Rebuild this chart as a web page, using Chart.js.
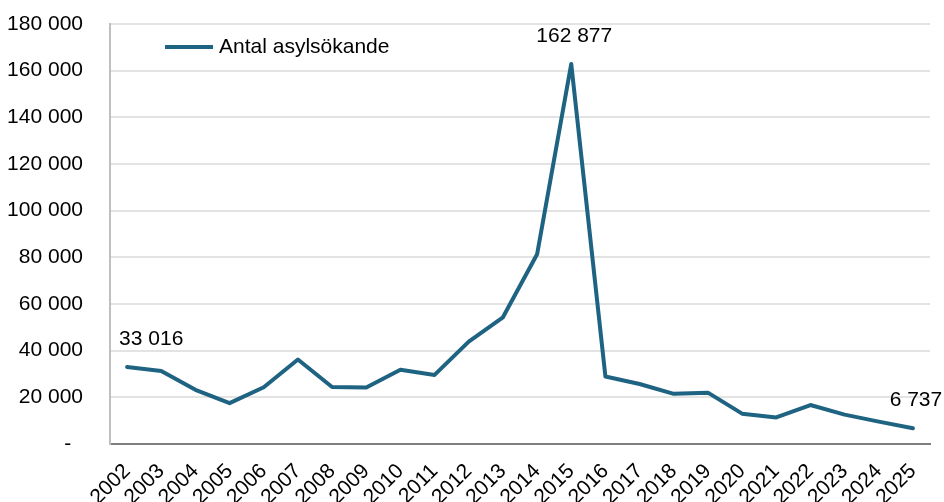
<!DOCTYPE html>
<html>
<head>
<meta charset="utf-8">
<script src="https://cdn.jsdelivr.net/npm/chart.js@4"></script>
<style>
  html, body { margin: 0; padding: 0; background: #fff; overflow: hidden; }
  #wrap { width: 944px; height: 502px; }
</style>
</head>
<body>
<div id="wrap"><canvas id="myChart"></canvas></div>
<script>
const years = ['2002', '2003', '2004', '2005', '2006', '2007', '2008', '2009', '2010', '2011', '2012', '2013',
    '2014', '2015', '2016', '2017', '2018', '2019', '2020', '2021', '2022', '2023', '2024', '2025'];
const applicants = [33016, 31300, 23200, 17500, 24300, 36200, 24400, 24200, 31800, 29600, 43900, 54300,
    81300, 162877, 28900, 25700, 21500, 22000, 13000, 11400, 16700, 12600, 9600, 6737];
const labelledYears = ['2002', '2015', '2025'];
const seriesName = 'Antal asylsökande';

const FONT = 'Liberation Sans, Arial, sans-serif';
const FSIZE = 21;
const LINE = '#1f6382';

function fmt(v) {
    return String(Math.round(v)).replace(/\B(?=(\d{3})+(?!\d))/g, ' ');
}

// data labels above selected points + legend drawn inside the plot
const extras = {
    id: 'extras',
    afterDatasetsDraw(chart) {
        const ctx = chart.ctx;
        const meta = chart.getDatasetMeta(0);
        ctx.save();
        ctx.font = FSIZE + 'px ' + FONT;
        ctx.fillStyle = '#000';
        ctx.textBaseline = 'middle';
        labelledYears.forEach(y => {
            const i = years.indexOf(y);
            const pt = meta.data[i];
            ctx.textAlign = i === 0 ? 'left' : 'center';
            const dx = i === 0 ? -8 : 3;
            ctx.fillText(fmt(applicants[i]), pt.x + dx, pt.y - 28);
        });
        // legend
        const ca = chart.chartArea;
        const ly = ca.top + 23;
        ctx.strokeStyle = LINE;
        ctx.lineWidth = 4;
        ctx.beginPath();
        ctx.moveTo(ca.left + 55, ly);
        ctx.lineTo(ca.left + 103, ly);
        ctx.stroke();
        ctx.textAlign = 'left';
        ctx.fillText(chart.data.datasets[0].label, ca.left + 109, ly);
        ctx.restore();
    }
};

new Chart(document.getElementById('myChart'), {
    type: 'line',
    data: {
        labels: years,
        datasets: [{
            label: seriesName,
            data: applicants,
            borderColor: LINE,
            backgroundColor: LINE,
            borderWidth: 4,
            borderJoinStyle: 'round',
            borderCapStyle: 'round',
            pointRadius: 0,
            tension: 0
        }]
    },
    options: {
        responsive: true,
        maintainAspectRatio: false,
        animation: false,
        layout: { padding: { top: 24, right: 14, left: 0, bottom: 0 } },
        plugins: {
            legend: { display: false },
            tooltip: { enabled: false }
        },
        scales: {
            x: {
                offset: true,
                grid: { display: false, drawTicks: false },
                border: { color: '#7f7f7f', width: 2 },
                ticks: {
                    color: '#000',
                    font: { family: FONT, size: FSIZE },
                    maxRotation: 45,
                    minRotation: 45,
                    autoSkip: false,
                    padding: 15
                },
                afterFit(scale) {
                    scale.height = 58;
                    scale.paddingLeft = 0;
                    scale.paddingRight = 0;
                }
            },
            y: {
                min: 0,
                max: 180000,
                grid: { color: '#e3e3e3', lineWidth: 2, drawTicks: false },
                border: { color: '#bfbfbf', width: 2 },
                ticks: {
                    stepSize: 20000,
                    color: '#000',
                    font: { family: FONT, size: FSIZE },
                    padding: 27,
                    callback: v => v === 0 ? '-  ' : fmt(v)
                },
                afterFit(scale) {
                    scale.width = 110;
                    scale.paddingTop = 0;
                    scale.paddingBottom = 0;
                }
            }
        }
    },
    plugins: [extras]
});
</script>
</body>
</html>
